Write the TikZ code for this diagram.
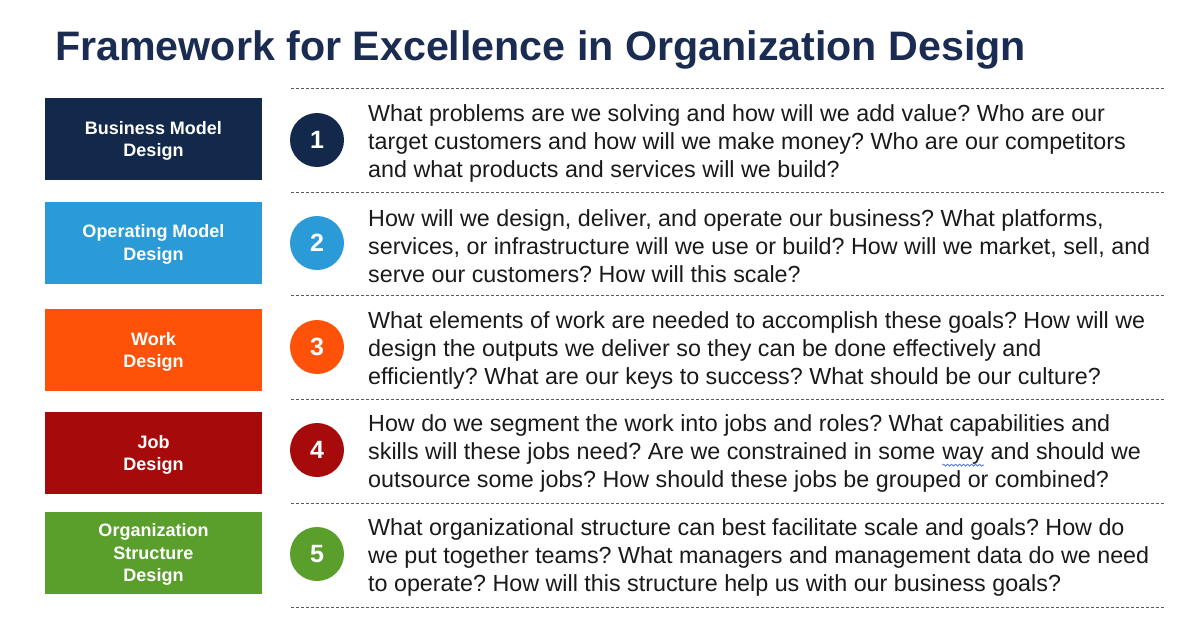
\documentclass[tikz,border=0pt]{standalone}
\usepackage{fontspec}
\setmainfont{Liberation Sans}
\usetikzlibrary{decorations.pathmorphing}
\frenchspacing
\definecolor{navy}{HTML}{13294B}
\definecolor{titlecol}{HTML}{1B2C52}
\definecolor{skyblue}{HTML}{2A9BD7}
\definecolor{orangec}{HTML}{FE5208}
\definecolor{darkred}{HTML}{A60A0A}
\definecolor{greenc}{HTML}{5A9E2C}
\definecolor{bodytext}{HTML}{1A1A1A}
\definecolor{dashcol}{HTML}{5A5A5A}
\definecolor{wavecol}{HTML}{5A7ED8}
\newcommand\spellwave[1]{\tikz[baseline=(w.base)]{\node[inner sep=0pt,outer sep=0pt,text=bodytext] (w) {#1};\draw[wavecol,line width=0.9pt,decorate,decoration={snake,amplitude=0.9pt,segment length=4pt}] ([yshift=-0.8pt]w.south west) -- ([yshift=-0.8pt]w.south east);}}
\tikzset{
  labelbox/.style={fill=#1, minimum width=217pt, minimum height=82pt, inner sep=0pt,
    text=white, align=center, font=\fontsize{18}{22.5}\selectfont\bfseries},
  numdisc/.style={circle, fill=#1, minimum size=54pt, inner sep=0pt,
    text=white, font=\fontsize{25}{25}\selectfont\bfseries},
  bodynote/.style={anchor=west, inner sep=0pt, align=left, text=bodytext,
    font=\fontsize{23.3}{28}\selectfont},
  sepline/.style={draw=dashcol, line width=0.8pt, dash pattern=on 3pt off 2pt}
}
\begin{document}
\begin{tikzpicture}[x=1pt,y=-1pt]
\useasboundingbox (0,0) rectangle (1200,633);
\fill[white] (0,0) rectangle (1200,633);
\node[anchor=base west, inner sep=0pt, text=titlecol, font=\fontsize{41.2}{42}\selectfont\bfseries] (title) at (55,60) {Framework for Excellence in Organization Design};

% separators
\foreach \y/\n in {88/s0,192/s1,295/s2,399/s3,503/s4,607/s5}{
  \coordinate (\n a) at (291,\y);
  \coordinate (\n b) at (1165,\y);
  \draw[sepline] (\n a) -- (\n b);
}

% row 1
\node[labelbox=navy] (b1) at (153.5,139) {};
\node[text=white, align=center, font=\fontsize{18}{22.5}\selectfont\bfseries, inner sep=0pt] (l1) at ([yshift=-2pt]b1.center) {Business Model\\Design};
\node[numdisc=navy] (c1) at (317,140) {1};
\node[bodynote] (t1) at (368,143.5) {What problems are we solving and how will we add value? Who are our\\target customers and how will we make money? Who are our competitors\\and what products and services will we build?};

% row 2
\node[labelbox=skyblue] (b2) at (153.5,242.5) {};
\node[text=white, align=center, font=\fontsize{18}{22.5}\selectfont\bfseries, inner sep=0pt] (l2) at ([yshift=-2pt]b2.center) {Operating Model\\Design};
\node[numdisc=skyblue] (c2) at (317,243) {2};
\node[bodynote] (t2) at (368,246.5) {How will we design, deliver, and operate our business? What platforms,\\services, or infrastructure will we use or build? How will we market, sell, and\\serve our customers? How will this scale?};

% row 3
\node[labelbox=orangec] (b3) at (153.5,350) {};
\node[text=white, align=center, font=\fontsize{18}{22.5}\selectfont\bfseries, inner sep=0pt] (l3) at ([yshift=-2pt]b3.center) {Work\\Design};
\node[numdisc=orangec] (c3) at (317,347) {3};
\node[bodynote] (t3) at (368,350.5) {What elements of work are needed to accomplish these goals? How will we\\design the outputs we deliver so they can be done effectively and\\efficiently? What are our keys to success? What should be our culture?};

% row 4
\node[labelbox=darkred] (b4) at (153.5,453) {};
\node[text=white, align=center, font=\fontsize{18}{22.5}\selectfont\bfseries, inner sep=0pt] (l4) at ([yshift=-2pt]b4.center) {Job\\Design};
\node[numdisc=darkred] (c4) at (317,450) {4};
\node[bodynote] (t4) at (368,453.5) {How do we segment the work into jobs and roles? What capabilities and\\skills will these jobs need? Are we constrained in some \spellwave{way} and should we\\outsource some jobs? How should these jobs be grouped or combined?};

% row 5
\node[labelbox=greenc] (b5) at (153.5,552.5) {};
\node[text=white, align=center, font=\fontsize{18}{22.5}\selectfont\bfseries, inner sep=0pt] (l5) at ([yshift=-2pt]b5.center) {Organization\\Structure\\Design};
\node[numdisc=greenc] (c5) at (317,554) {5};
\node[bodynote] (t5) at (368,557.5) {What organizational structure can best facilitate scale and goals? How do\\we put together teams? What managers and management data do we need\\to operate? How will this structure help us with our business goals?};
\end{tikzpicture}
\end{document}
